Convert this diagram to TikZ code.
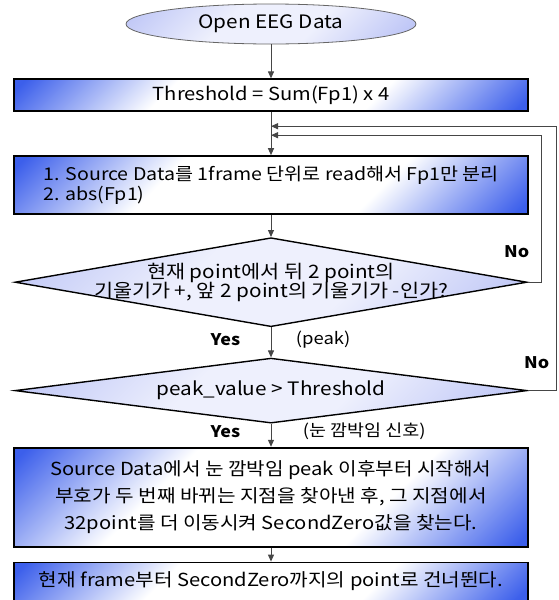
\documentclass[tikz,border=0pt]{standalone}
\usepackage{fontspec}
\setmainfont{Noto Sans CJK KR}[FakeStretch=1.12]
\usetikzlibrary{positioning, arrows.meta, shapes.geometric}
\definecolor{boxblue}{RGB}{60, 95, 235}
\definecolor{lav}{RGB}{188, 196, 246}
\definecolor{conn}{RGB}{70, 70, 70}
\pgfdeclareverticalshading{boxshade}{100bp}{color(0bp)=(boxblue); color(16bp)=(boxblue);
    color(36bp)=(white); color(64bp)=(white); color(84bp)=(boxblue); color(100bp)=(boxblue)}
\pgfdeclareverticalshading{lavshade}{100bp}{color(0bp)=(lav); color(18bp)=(lav);
    color(40bp)=(lav!25); color(60bp)=(lav!25); color(84bp)=(lav); color(100bp)=(lav)}
\newcommand\tightlines{\lineskiplimit=-30pt\relax}

\begin{document}
\begin{tikzpicture}[
    x=1pt, y=-1pt,
    stepbox/.style={
        draw,
        line width=1.8pt,
        shading=boxshade,
        shading angle=45,
        minimum width=514pt,
        inner sep=0pt,
        align=center,
        font=\fontsize{18}{20}\selectfont
    },
    decision/.style={
        diamond,
        draw,
        line width=1.4pt,
        shading=lavshade,
        shading angle=45,
        shape aspect=5.7,
        minimum width=512pt,
        inner xsep=-170pt, inner ysep=-14pt,
        align=center,
        font=\fontsize{18.5}{19}\selectfont\tightlines
    },
    startnode/.style={
        ellipse,
        draw=gray!80!black,
        line width=0.8pt,
        shading=lavshade,
        shading angle=45,
        minimum width=290pt,
        minimum height=40pt,
        inner sep=0pt,
        font=\fontsize{18.5}{18}\selectfont
    },
    flow/.style={->, >={Triangle[length=7pt, width=6pt]}, line width=1pt, draw=conn},
    yn/.style={font=\fontsize{16}{16}\selectfont\bfseries},
    note/.style={font=\fontsize{16.5}{16}\selectfont}
]
\useasboundingbox (0,0) rectangle (558,600);

% === Start ===
\node[startnode] (open) at (271,24) {Open EEG Data};

% === Threshold ===
\node[stepbox, minimum height=32pt, below=34pt of open] (thr) {Threshold = Sum(Fp1) x 4};

% === Read frame ===
\node[stepbox, minimum height=58pt, align=left, font=\fontsize{17.5}{20}\selectfont, below=43pt of thr] (src) {
1. Source Data를 1frame 단위로 read해서 Fp1만 분리\\
2. abs(Fp1)
};

% === Decisions ===
\node[decision, minimum height=89pt, below=22pt of src] (peak) {
현재 point에서 뒤 2 point의\\
기울기가 +, 앞 2 point의 기울기가 -인가?
};
\node[decision, minimum height=65pt, below=30pt of peak] (thrchk) {peak\_value > Threshold};

% === Blink handling ===
\node[stepbox, minimum height=99pt, font=\fontsize{18}{27}\selectfont, below=23pt of thrchk] (zero) {
Source Data에서 눈 깜박임 peak 이후부터 시작해서\\
부호가 두 번째 바뀌는 지점을 찾아낸 후, 그 지점에서\\
32point를 더 이동시켜 SecondZero값을 찾는다.
};
\node[stepbox, minimum height=38pt, below=14pt of zero] (skip) {현재 frame부터 SecondZero까지의 point로 건너뛴다.};

% === Arrows ===
\coordinate (fbin) at ([yshift=-23pt]thr.south);
\coordinate (fbout) at ([yshift=-14pt]thr.south);
\draw[flow] (open) -- (thr);
\draw[flow] (thr.south) -- (src.north);
\draw[flow] (src) -- (peak);
\draw[flow] (peak) -- (thrchk)
    node[yn, midway, left=27pt, yshift=3pt] (yes1) {Yes}
    node[note, midway, right=21pt, yshift=3pt] (peaknote) {(peak)};
\draw[flow] (thrchk) -- (zero)
    node[yn, midway, left=27pt, yshift=4pt] (yes2) {Yes}
    node[note, midway, right=28pt, yshift=4pt] (blinknote) {(눈 깜박임 신호)};
\draw[flow] (zero) -- (skip);

% === Feedback ===
\draw[flow] (peak.east) -- ++(14,0) |- (fbin);
\draw[flow] (thrchk.east) -- ++(29,0) |- (fbout);
\node[yn] (no1) at ([xshift=-11pt, yshift=31pt]peak.east) {No};
\node[yn] (no2) at ([xshift=9pt, yshift=28pt]thrchk.east) {No};

\end{tikzpicture}
\end{document}
